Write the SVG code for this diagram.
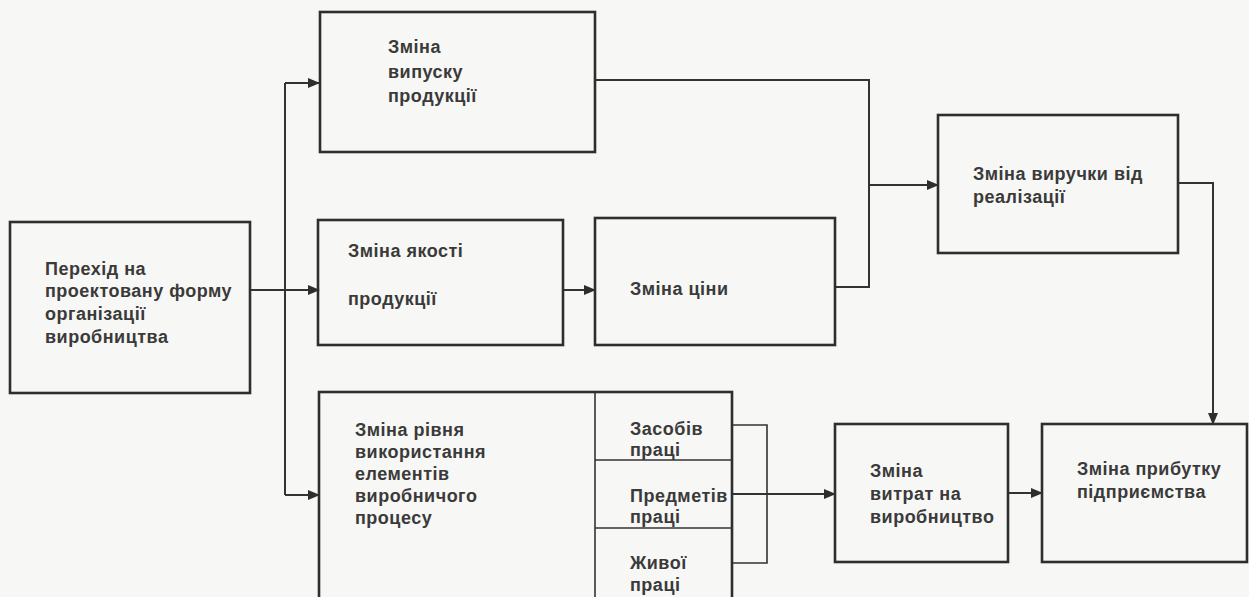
<svg xmlns="http://www.w3.org/2000/svg" width="1249" height="597" viewBox="0 0 1249 597">
<defs>
<marker id="arr" markerUnits="userSpaceOnUse" markerWidth="12" markerHeight="10" refX="11" refY="5" orient="auto">
<path d="M0,0 L12,5 L0,10 z" fill="#2e2e2e"/>
</marker>
<style>
.box{fill:none;stroke:#2e2e2e;stroke-width:2.6}
.thin{fill:none;stroke:#333;stroke-width:1.6}
.con{fill:none;stroke:#333;stroke-width:2}
text{font-family:"Liberation Sans",Arial,sans-serif;font-weight:bold;font-size:18px;letter-spacing:0.5px;fill:#3a3a3a}
</style>
</defs>
<rect x="0" y="0" width="1249" height="597" fill="#f7f7f5"/>
<g id="connectors">
<polyline class="con" points="250,290 285,290"/>
<line class="con" x1="285" y1="83" x2="285" y2="495"/>
<line class="con" x1="285" y1="83" x2="319" y2="83" marker-end="url(#arr)"/>
<line class="con" x1="285" y1="290" x2="319" y2="290" marker-end="url(#arr)"/>
<line class="con" x1="285" y1="495" x2="319" y2="495" marker-end="url(#arr)"/>
<line class="con" x1="563" y1="290" x2="595" y2="290" marker-end="url(#arr)"/>
<polyline class="con" points="595,80 869,80 869,287 835,287"/>
<line class="con" x1="869" y1="185" x2="938" y2="185" marker-end="url(#arr)"/>
<polyline class="con" points="1178,183 1213,183 1213,424" marker-end="url(#arr)"/>
<polyline class="thin" points="732,425 767,425 767,563 732,563"/>
<line class="con" x1="732" y1="494" x2="835" y2="494" marker-end="url(#arr)"/>
<line class="con" x1="1008" y1="493" x2="1042" y2="493" marker-end="url(#arr)"/>
</g>
<g id="n-transition">
<rect class="box" x="10" y="222" width="240" height="171"/>
<text x="45" y="275">Перехід на</text>
<text x="45" y="297">проектовану форму</text>
<text x="45" y="320">організації</text>
<text x="45" y="343">виробництва</text>
</g>
<g id="n-output">
<rect class="box" x="320" y="12" width="275" height="140"/>
<text x="388" y="53">Зміна</text>
<text x="388" y="78">випуску</text>
<text x="388" y="102">продукції</text>
</g>
<g id="n-quality">
<rect class="box" x="318" y="220" width="245" height="125"/>
<text x="348" y="257">Зміна якості</text>
<text x="348" y="305">продукції</text>
</g>
<g id="n-price">
<rect class="box" x="595" y="218" width="240" height="127"/>
<text x="630" y="295">Зміна ціни</text>
</g>
<g id="n-revenue">
<rect class="box" x="938" y="115" width="240" height="138"/>
<text x="973" y="180">Зміна виручки від</text>
<text x="973" y="203">реалізації</text>
</g>
<g id="n-elements">
<rect class="box" x="319" y="392" width="413" height="210"/>
<line class="thin" x1="595" y1="392" x2="595" y2="600"/>
<line class="thin" x1="595" y1="460" x2="732" y2="460"/>
<line class="thin" x1="595" y1="528" x2="732" y2="528"/>
<text x="355" y="436">Зміна рівня</text>
<text x="355" y="458">використання</text>
<text x="355" y="480">елементів</text>
<text x="355" y="502">виробничого</text>
<text x="355" y="524">процесу</text>
<text x="630" y="435">Засобів</text>
<text x="630" y="456">праці</text>
<text x="630" y="502">Предметів</text>
<text x="630" y="523">праці</text>
<text x="630" y="569">Живої</text>
<text x="630" y="591">праці</text>
</g>
<g id="n-costs">
<rect class="box" x="835" y="424" width="173" height="138"/>
<text x="870" y="477">Зміна</text>
<text x="870" y="500">витрат на</text>
<text x="870" y="523">виробництво</text>
</g>
<g id="n-profit">
<rect class="box" x="1042" y="424" width="205" height="138"/>
<text x="1077" y="475">Зміна прибутку</text>
<text x="1077" y="498">підприємства</text>
</g>
</svg>
